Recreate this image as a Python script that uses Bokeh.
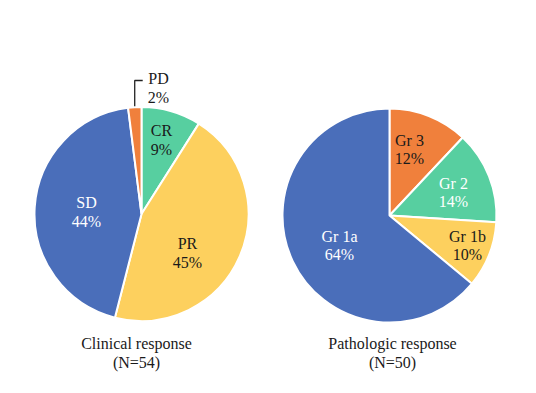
import math
from bokeh.plotting import figure
from bokeh.models import ColumnDataSource
from bokeh.core.properties import value
from bokeh.embed import file_html
from bokeh.resources import INLINE

# ---- data ----
clin_labels = ["CR", "PR", "SD", "PD"]
clin_values = [9, 45, 44, 2]
clin_title = ["Clinical response", "(N=54)"]

path_labels = ["Gr 3", "Gr 2", "Gr 1b", "Gr 1a"]
path_values = [12, 14, 10, 64]
path_title = ["Pathologic response", "(N=50)"]

# ---- styles / layout ----
clin_colors = ["#57CFA0", "#FDD05E", "#4A6EBA", "#F0803C"]
path_colors = ["#F0803C", "#57CFA0", "#FDD05E", "#4A6EBA"]
clin_text_colors = ["#1a1a1a", "#1a1a1a", "#ffffff", "#1a1a1a"]
path_text_colors = ["#1a1a1a", "#ffffff", "#1a1a1a", "#ffffff"]
# label offsets (pixels relative to pie center, y downward)
clin_label_off = [(20, -74), (46, 39), (-55, -2), (17, -126)]
path_label_off = [(20, -66), (64, -23), (78, 30), (-50, 30)]

W, H = 520, 377
FONT = value("Liberation Serif")
FS = "16px"
LINE_GAP = 18.5
R = 107


def Y(yp):
    return H - yp


def X(xp):
    return xp


p = figure(width=W, height=H, x_range=(0, W), y_range=(0, H),
           output_backend="svg", toolbar_location=None, min_border=0)
p.axis.visible = False
p.grid.visible = False
p.outline_line_color = None
p.background_fill_color = "white"
p.border_fill_color = "white"


def draw_pie(cx, cy, labels, vals, colors, tcolors, offs, title, title_x):
    total = sum(vals)
    cum = 0
    starts, ends = [], []
    for v in vals:
        starts.append(math.pi / 2 - 2 * math.pi * cum / total)
        cum += v
        ends.append(math.pi / 2 - 2 * math.pi * cum / total)
    src = ColumnDataSource(dict(x=[X(cx)] * len(vals), y=[Y(cy)] * len(vals),
                                s=starts, e=ends, c=colors))
    p.wedge(x="x", y="y", radius=R, start_angle="s", end_angle="e",
            direction="clock", fill_color="c", line_color="white",
            line_width=2, source=src)
    tx, ty1, ty2, tt1, tt2, tc = [], [], [], [], [], []
    for lab, v, col, (dx, dy) in zip(labels, vals, tcolors, offs):
        tx.append(X(cx + dx))
        ty1.append(Y(cy + dy - LINE_GAP / 2))
        ty2.append(Y(cy + dy + LINE_GAP / 2))
        tt1.append(lab)
        tt2.append(f"{v}%")
        tc.append(col)
    for yy, tt in ((ty1, tt1), (ty2, tt2)):
        s = ColumnDataSource(dict(x=tx, y=yy, t=tt, c=tc))
        p.text(x="x", y="y", text="t", text_color="c", source=s,
               text_font=FONT, text_font_size=FS, text_align="center",
               text_baseline="middle")
    p.text(x=[X(title_x), X(title_x)], y=[Y(343), Y(362)], text=title,
           text_font=FONT, text_font_size=FS, text_align="center",
           text_baseline="middle", text_color="#1a1a1a")
    return starts, ends


cs, ce = draw_pie(141, 213.5, clin_labels, clin_values, clin_colors,
                  clin_text_colors, clin_label_off, clin_title, 136)
draw_pie(389, 215, path_labels, path_values, path_colors,
         path_text_colors, path_label_off, path_title, 392)

# leader line for the small PD slice
mid = (cs[3] + ce[3]) / 2
rx = X(141) + (R + 1) * math.cos(mid)
ry = Y(213.5) + (R + 1) * math.sin(mid)
p.line(x=[rx, rx, rx + 8], y=[ry, Y(80), Y(80)], line_color="#222222",
       line_width=1.3)

open("out.html", "w").write(file_html(p, INLINE))
